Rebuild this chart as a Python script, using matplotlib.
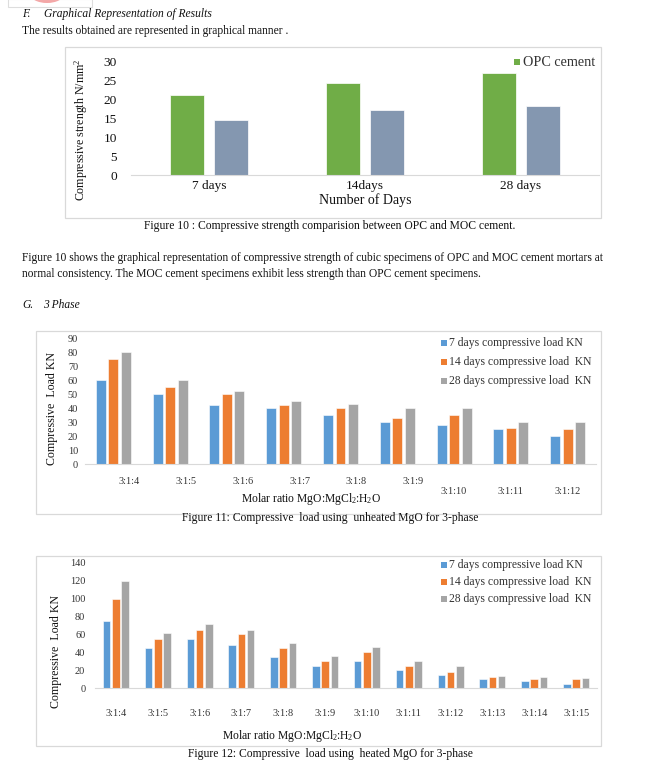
import matplotlib
matplotlib.use("Agg")
import matplotlib.pyplot as plt
import numpy as np
from matplotlib.patches import Rectangle, Ellipse
from matplotlib.transforms import ScaledTranslation

plt.rcParams['font.family'] = ['Liberation Serif', 'DejaVu Serif']
plt.rcParams['mathtext.fontset'] = 'custom'
plt.rcParams['mathtext.rm'] = 'Liberation Serif'
plt.rcParams['mathtext.it'] = 'Liberation Serif:italic'

# ---------------- data ----------------
days = ["7 days", "14days", "28 days"]
opc_strength = [21.3, 24.4, 27.0]
moc_strength = [14.7, 17.2, 18.3]

ratios_unheated = ["3:1:4", "3:1:5", "3:1:6", "3:1:7", "3:1:8", "3:1:9", "3:1:10", "3:1:11", "3:1:12"]
unheated_7 = [60, 50, 42, 40, 35, 30, 28, 25, 20]
unheated_14 = [75, 55, 50, 42, 40, 33, 35, 26, 25]
unheated_28 = [80, 60, 52, 45, 43, 40, 40, 30, 30]

ratios_heated = ["3:1:4", "3:1:5", "3:1:6", "3:1:7", "3:1:8", "3:1:9", "3:1:10", "3:1:11",
                 "3:1:12", "3:1:13", "3:1:14", "3:1:15"]
heated_7 = [75, 45, 55, 48, 35, 25, 30, 20, 15, 10, 8, 5]
heated_14 = [100, 55, 65, 60, 45, 30, 40, 25, 18, 12, 10, 10]
heated_28 = [120, 62, 72, 65, 50, 36, 46, 30, 25, 14, 12, 11]

series_names = ["7 days compressive load KN", "14 days compressive load  KN", "28 days compressive load  KN"]

# ---------------- layout helpers ----------------
W, H = 657, 773
fig = plt.figure(figsize=(W / 100, H / 100), dpi=100)
fig.patch.set_facecolor("white")

def box(x0, y0, x1, y1):
    return [x0 / W, 1 - y1 / H, (x1 - x0) / W, (y1 - y0) / H]

def ftext(x, y, s, **kw):
    kw.setdefault("va", "center")
    kw.setdefault("ha", "left")
    return fig.text(x / W, 1 - y / H, s, **kw)

def frame(x0, y0, x1, y1, color="#D9D9D9", lw=0.9):
    fig.patches.append(Rectangle((x0 / W, 1 - y1 / H), (x1 - x0) / W, (y1 - y0) / H,
                                 transform=fig.transFigure, fill=False, edgecolor=color, lw=lw))

def legend_item(x, y, color, label, size, gap=8, msize=5.5):
    fig.patches.append(Rectangle(((x) / W, 1 - (y + msize / 2) / H), msize / W, msize / H,
                                 transform=fig.transFigure, facecolor=color, edgecolor="none"))
    ftext(x + gap, y, label, fontsize=size, color="#333333")

BODY = 8.3
TXT = "#111111"

# ---------------- page decoration ----------------
fig.patches.append(Ellipse((47 / W, 1 - (-6) / H), 34 / W, 18 / H, transform=fig.transFigure,
                           facecolor="#F4A7A7", edgecolor="none"))
fig.patches.append(Rectangle((8 / W, 1 - 6.5 / H), 84 / W, 7 / H, transform=fig.transFigure,
                             fill=False, edgecolor="#DDDDDD", lw=0.8))

ftext(22, 14, "F.", fontsize=BODY, style="italic", color=TXT)
ftext(44, 14, "Graphical Representation of Results", fontsize=BODY, style="italic", color=TXT)
ftext(22, 31, "The results obtained are represented in graphical manner .", fontsize=BODY, color=TXT)

# ---------------- chart 1 ----------------
frame(65, 47, 601, 218)
ax1 = fig.add_axes(box(131, 62, 599, 175))
x = np.arange(len(days))
ax1.bar(x - 0.141, opc_strength, width=0.224, color="#70AD47", edgecolor="white", lw=0.5)
ax1.bar(x + 0.141, moc_strength, width=0.224, color="#8497B0", edgecolor="white", lw=0.5)
ax1.set_xlim(-0.5, len(days) - 0.5)
ax1.set_ylim(0, 30)
ax1.set_yticks(range(0, 31, 5))
ax1.set_xticks(x)
ax1.set_xticklabels(days)
ax1.tick_params(axis="both", length=0, labelsize=9.6, colors=TXT)
ax1.tick_params(axis="y", pad=10)
ax1.tick_params(axis="x", pad=3.5)
for s in ["top", "right", "left"]:
    ax1.spines[s].set_visible(False)
ax1.spines["bottom"].set_color("#D9D9D9")
ax1.set_facecolor("none")
ftext(365, 200, "Number of Days", fontsize=10, ha="center", color=TXT)
ftext(81, 130, "Compressive strength N/mm$^2$", fontsize=8.6, rotation=90, ha="center", color=TXT)
legend_item(514, 62, "#70AD47", "OPC cement", 10.2, gap=9, msize=6)

ftext(330, 226, "Figure 10 : Compressive strength comparision between OPC and MOC cement.",
      fontsize=8.4, ha="center", color=TXT)
ftext(22, 258, "Figure 10 shows the graphical representation of compressive strength of cubic specimens "
      "of OPC and MOC cement mortars at", fontsize=BODY, color=TXT)
ftext(22, 274, "normal consistency. The MOC cement specimens exhibit less strength than OPC cement specimens.",
      fontsize=BODY, color=TXT)
ftext(22, 305, "G.", fontsize=BODY, style="italic", color=TXT)
ftext(43, 305, "3 Phase", fontsize=BODY, style="italic", color=TXT)

colors3 = ["#5B9BD5", "#ED7D31", "#A5A5A5"]

def grouped(ax, cats, vals, bw, step):
    xs = np.arange(len(cats))
    for i, (v, c) in enumerate(zip(vals, colors3)):
        ax.bar(xs + (i - 1) * step, v, width=bw, color=c, edgecolor="white", lw=0.4)
    ax.set_xlim(-0.5, len(cats) - 0.5)
    ax.set_xticks(xs)
    ax.set_xticklabels(cats)
    for s in ["top", "right", "left"]:
        ax.spines[s].set_visible(False)
    ax.spines["bottom"].set_color("#D9D9D9")
    ax.tick_params(axis="both", length=0, labelsize=7.4, colors="#333333")
    ax.set_facecolor("none")

# ---------------- chart 2 ----------------
frame(36, 331, 601, 514)
ax2 = fig.add_axes(box(85, 338, 596, 464))
grouped(ax2, ratios_unheated, [unheated_7, unheated_14, unheated_28], 0.176, 0.22)
ax2.set_ylim(0, 90)
ax2.set_yticks(range(0, 91, 10))
ax2.tick_params(axis="y", pad=5)
ax2.tick_params(axis="x", pad=9)
for i, lab in enumerate(ax2.get_xticklabels()):
    dx, dy = (16, 0) if i < 6 else (0, 11)
    lab.set_transform(lab.get_transform() + ScaledTranslation(dx / 100, -dy / 100, fig.dpi_scale_trans))
ftext(52, 408, "Compressive  Load KN", fontsize=8.6, rotation=90, ha="center", color=TXT)
ftext(311, 499, "Molar ratio MgO:MgCl$_2$:H$_2$O", fontsize=8.4, ha="center", color=TXT)
for i, (c, n) in enumerate(zip(colors3, series_names)):
    legend_item(441, 343 + 19 * i, c, n, 8.4)
ftext(330, 518, "Figure 11: Compressive  load using  unheated MgO for 3-phase", fontsize=8.4,
      ha="center", color=TXT)

# ---------------- chart 3 ----------------
frame(36, 556, 601, 746)
ax3 = fig.add_axes(box(95, 563, 597, 688))
grouped(ax3, ratios_heated, [heated_7, heated_14, heated_28], 0.18, 0.22)
ax3.set_ylim(0, 140)
ax3.set_yticks(range(0, 141, 20))
ax3.tick_params(axis="y", pad=7)
ax3.tick_params(axis="x", pad=15)
ftext(56, 652, "Compressive  Load KN", fontsize=8.6, rotation=90, ha="center", color=TXT)
ftext(292, 736, "Molar ratio MgO:MgCl$_2$:H$_2$O", fontsize=8.4, ha="center", color=TXT)
for i, (c, n) in enumerate(zip(colors3, series_names)):
    legend_item(441, 565 + 17 * i, c, n, 8.4)
ftext(330, 754, "Figure 12: Compressive  load using  heated MgO for 3-phase", fontsize=8.4,
      ha="center", color=TXT)

fig.savefig("out.png", dpi=100)
